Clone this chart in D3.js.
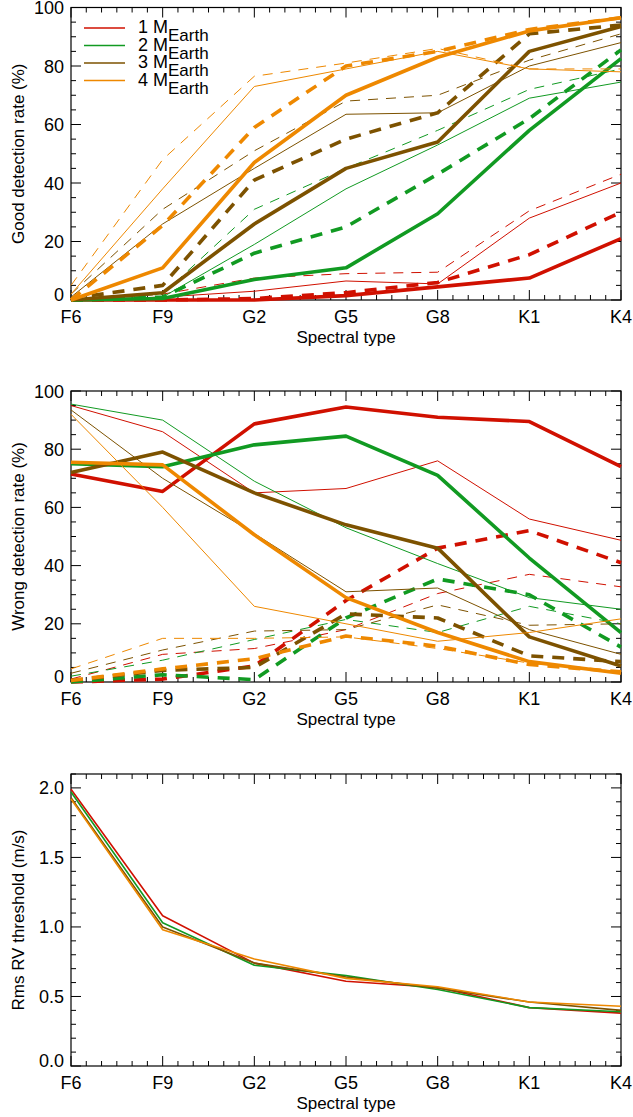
<!DOCTYPE html>
<html><head><meta charset="utf-8">
<script src="https://cdn.jsdelivr.net/npm/d3@7"></script>
<style>body{margin:0;background:#fff}text{font-family:"Liberation Sans",Arial,sans-serif;fill:#000}</style>
</head><body><svg id="c" width="633" height="1117"></svg>
<script>
const types = ["F6","F9","G2","G5","G8","K1","K4"];
const masses = ["1","2","3","4"];
const colors = ["#d01000","#119a22","#7d5200","#ee8800"];
// panel 1: good detection rate (%) — [mass][style]: thickSolid, thickDash, thinSolid, thinDash
const good1 = [[0,0,0,1.5,4.5,7.5,21],[0,0,0.5,2.5,6,15.5,30],[0,1,3,6.5,5.5,28,40],[0,2,7.5,9,9.5,30.5,43]];
const good2 = [[0,0.5,7,11,29.5,58,82.5],[0,1,16,25,43,62,85.5],[0,1,19,38,53,69,74.5],[0,2,31,45,58,72,79]];
const good3 = [[0,2.5,26,45,54,85,93.5],[0.5,5,41,55,64,91,94],[1,26,45,63.5,64,80,88],[2,31,51,68,70,82,91]];
const good4 = [[0,11,47,70,83,92,96.5],[0,25.5,59,80,85,92.5,96.5],[2,38,73,79,85,79,78],[5,48,76.5,81,86,79,79]];
// panel 2: wrong detection rate (%)
const wrong1 = [[71.5,65.5,88.7,94.5,91,89.5,74],[0,1,5.5,28,46,52,41],[95,86,65,66.5,76,56,48.7],[1,9.5,11.5,18,30.4,37,32.7]];
const wrong2 = [[75,74,81.5,84.5,71,42.6,17],[0,2.5,0.8,22,35.4,30,12],[95.5,90,69,53,40.7,29,25],[2,7.5,14.6,21.5,17,26,20]];
const wrong3 = [[72,79,65,54,46,15.5,5.5],[0.5,4,5,23.4,22,9,7],[93.5,70,51,31,32.3,18,9.5],[3,11,17.5,18,26.5,19.5,20]];
const wrong4 = [[75.5,74.6,50.6,29,17,7,3],[0.5,4.5,8,15.8,12.3,6,3.5],[92,60,26,20,14,17,21.7],[4.5,15,15,15.5,11.5,6.5,3.5]];
// panel 3: rms RV threshold (m/s)
const rms1 = [1.99,1.08,0.74,0.61,0.565,0.42,0.38];
const rms2 = [1.97,1.03,0.725,0.65,0.55,0.42,0.39];
const rms3 = [1.93,1.00,0.74,0.64,0.56,0.46,0.40];
const rms4 = [1.92,0.98,0.77,0.63,0.57,0.46,0.43];
const yTicks1 = [0,20,40,60,80,100];
const yTicks3 = [0.0,0.5,1.0,1.5,2.0];

const svg = d3.select("#c");
const x = d3.scalePoint().domain(types).range([71,621]);
const step = x.step();
const styles = [{w:3.6,d:null},{w:3.6,d:"12,9"},{w:1,d:null},{w:1,d:"10,8"}];

function panel(top, bottom, domain, ticks, minor, fmt, ylabel){
  const y = d3.scaleLinear().domain(domain).range([bottom, top]);
  const g = svg.append("g");
  const xm = [];
  for(let i=0;i<types.length-1;i++) for(let k=1;k<6;k++) xm.push(71+step*(i+k/6));
  const ym = d3.range(domain[0], domain[1]+1e-9, minor).filter(v=>!ticks.some(t=>Math.abs(t-v)<1e-9));
  xm.forEach(p=>{g.append("line").attr("x1",p).attr("x2",p).attr("y1",bottom).attr("y2",bottom-5).attr("stroke","#000");
    g.append("line").attr("x1",p).attr("x2",p).attr("y1",top).attr("y2",top+5).attr("stroke","#000");});
  types.forEach(t=>{const p=x(t);g.append("line").attr("x1",p).attr("x2",p).attr("y1",bottom).attr("y2",bottom-10).attr("stroke","#000");
    g.append("line").attr("x1",p).attr("x2",p).attr("y1",top).attr("y2",top+10).attr("stroke","#000");
    g.append("text").attr("x",p).attr("y",bottom+23).attr("text-anchor","middle").attr("font-size",18).text(t);});
  ym.forEach(v=>{const p=y(v);g.append("line").attr("x1",71).attr("x2",76).attr("y1",p).attr("y2",p).attr("stroke","#000");
    g.append("line").attr("x1",621).attr("x2",616).attr("y1",p).attr("y2",p).attr("stroke","#000");});
  ticks.forEach(v=>{const p=y(v);g.append("line").attr("x1",71).attr("x2",81).attr("y1",p).attr("y2",p).attr("stroke","#000");
    g.append("line").attr("x1",621).attr("x2",611).attr("y1",p).attr("y2",p).attr("stroke","#000");
    g.append("text").attr("x",64).attr("y",Math.min(p+6.5,bottom+1)).attr("text-anchor","end").attr("font-size",18).text(fmt(v));});
  g.append("rect").attr("x",71).attr("y",top).attr("width",550).attr("height",bottom-top).attr("fill","none").attr("stroke","#000").attr("stroke-width",1.2);
  g.append("text").attr("x",346).attr("y",bottom+43).attr("text-anchor","middle").attr("font-size",17).text("Spectral type");
  g.append("text").attr("transform",`translate(24,${(top+bottom)/2}) rotate(-90)`).attr("text-anchor","middle").attr("font-size",17).text(ylabel);
  return {y,g};
}
function draw(p, series, color, st){
  const line = d3.line().x((d,i)=>x(types[i])).y(d=>p.y(d));
  p.g.append("path").attr("d",line(series)).attr("fill","none").attr("stroke",color)
    .attr("stroke-width",st.w).attr("stroke-dasharray",st.d).attr("stroke-linejoin","round");
}
const p1 = panel(7.5,300,[0,100],yTicks1,5,d3.format("d"),"Good detection rate (%)");
[good1,good2,good3,good4].forEach((m,mi)=>m.forEach((s,si)=>draw(p1,s,colors[mi],styles[si])));
const p2 = panel(391,682,[0,100],yTicks1,5,d3.format("d"),"Wrong detection rate (%)");
[wrong1,wrong2,wrong3,wrong4].forEach((m,mi)=>m.forEach((s,si)=>draw(p2,s,colors[mi],styles[si])));
const p3 = panel(774,1066,[0,2.1],yTicks3,0.1,d3.format(".1f"),"Rms RV threshold (m/s)");
[rms1,rms2,rms3,rms4].forEach((s,mi)=>draw(p3,s,colors[mi],{w:1.6,d:null}));
masses.forEach((m,i)=>{
  const ly = 28 + i*17.5;
  svg.append("line").attr("x1",84).attr("x2",125).attr("y1",ly).attr("y2",ly).attr("stroke",colors[i]).attr("stroke-width",1.6);
  const t = svg.append("text").attr("x",138).attr("y",ly+5).attr("font-size",18);
  t.append("tspan").text(m+" M");
  t.append("tspan").attr("dy",8).attr("font-size",17).text("Earth");
});
</script></body></html>
